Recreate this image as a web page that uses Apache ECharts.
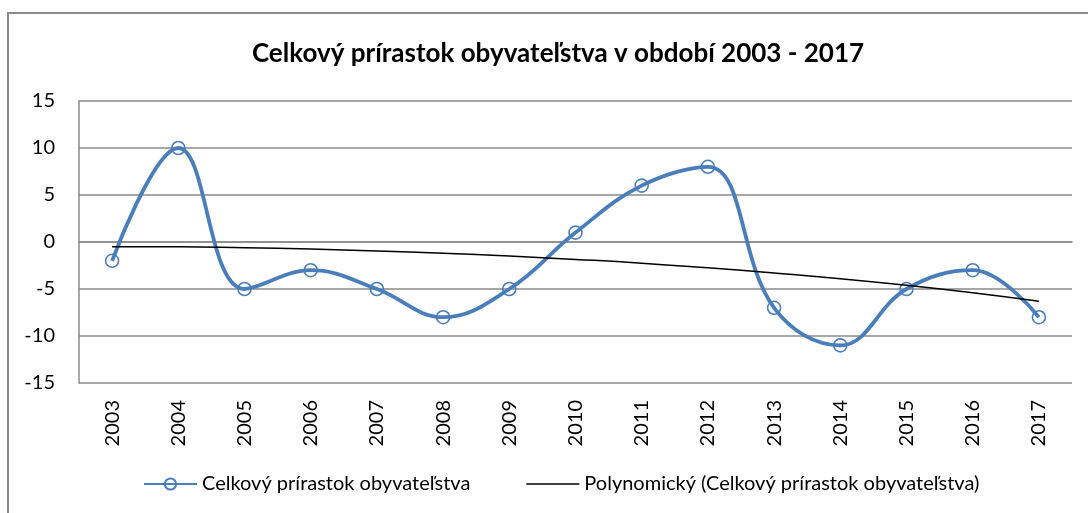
<!DOCTYPE html>
<html>
<head>
<meta charset="utf-8">
<script src="https://cdn.jsdelivr.net/npm/echarts@6/dist/echarts.min.js"></script>
<style>html,body{margin:0;padding:0;background:#fff}#c{width:1088px;height:513px}</style>
</head>
<body>
<div id="c"></div>
<script>
const titleText = 'Celkový prírastok obyvateľstva v období 2003 - 2017';
const years = ['2003','2004','2005','2006','2007','2008','2009','2010','2011','2012','2013','2014','2015','2016','2017'];
const growth = [-2, 10, -5, -3, -5, -8, -5, 1, 6, 8, -7, -11, -5, -3, -8];
const trend = [-0.5, -0.5, -0.6, -0.75, -0.95, -1.2, -1.5, -1.85, -2.25, -2.75, -3.3, -3.9, -4.6, -5.4, -6.3];
const seriesNames = ['Celkový prírastok obyvateľstva', 'Polynomický (Celkový prírastok obyvateľstva)'];

const FONT = 'Lato, "Open Sans", sans-serif';
const chart = echarts.init(document.getElementById('c'));
chart.setOption({
  animation: false,
  backgroundColor: '#fff',
  graphic: [{
    type: 'rect', silent: true, z: -1,
    shape: {x: 8, y: 13, width: 1200, height: 700},
    style: {fill: 'none', stroke: '#8a8a8a', lineWidth: 2}
  }],
  title: {
    text: titleText, left: 553, top: 36, textAlign: 'center',
    textStyle: {fontFamily: FONT, fontWeight: 'bold', fontSize: 26, color: '#000'}
  },
  grid: {left: 79, right: 16, top: 101, bottom: 130},
  legend: {
    left: 143, top: 474, padding: 0, itemWidth: 53, itemHeight: 14, itemGap: 56,
    textStyle: {fontFamily: FONT, fontSize: 20, color: '#000'},
    data: [
      {name: seriesNames[0]},
      {name: seriesNames[1], icon: 'path://M0,0L60,0L60,1.6L0,1.6Z'}
    ]
  },
  xAxis: {
    type: 'category', data: years, boundaryGap: true,
    axisLine: {lineStyle: {color: '#8a8a8a', width: 1.5}},
    axisTick: {show: false},
    axisLabel: {rotate: 90, margin: 17, fontFamily: FONT, fontSize: 20, color: '#000'}
  },
  yAxis: {
    type: 'value', min: -15, max: 15, interval: 5,
    axisLine: {show: true, lineStyle: {color: '#8a8a8a', width: 1.5}},
    axisTick: {show: false},
    splitLine: {lineStyle: {color: '#8a8a8a', width: 1.5}},
    axisLabel: {margin: 24, fontFamily: FONT, fontSize: 20, color: '#000'}
  },
  series: [{
    name: seriesNames[0], type: 'line', data: growth, smooth: 0.4,
    symbol: 'circle', symbolSize: 13,
    lineStyle: {color: '#4A7EBB', width: 3.8},
    itemStyle: {color: 'rgba(255,255,255,0)', borderColor: '#4A7EBB', borderWidth: 1.6},
    z: 2
  }, {
    name: seriesNames[1], type: 'line', data: trend, smooth: true,
    symbol: 'none', lineStyle: {color: '#000', width: 1.5},
    itemStyle: {color: '#000'}, z: 3
  }]
});
</script>
</body>
</html>
